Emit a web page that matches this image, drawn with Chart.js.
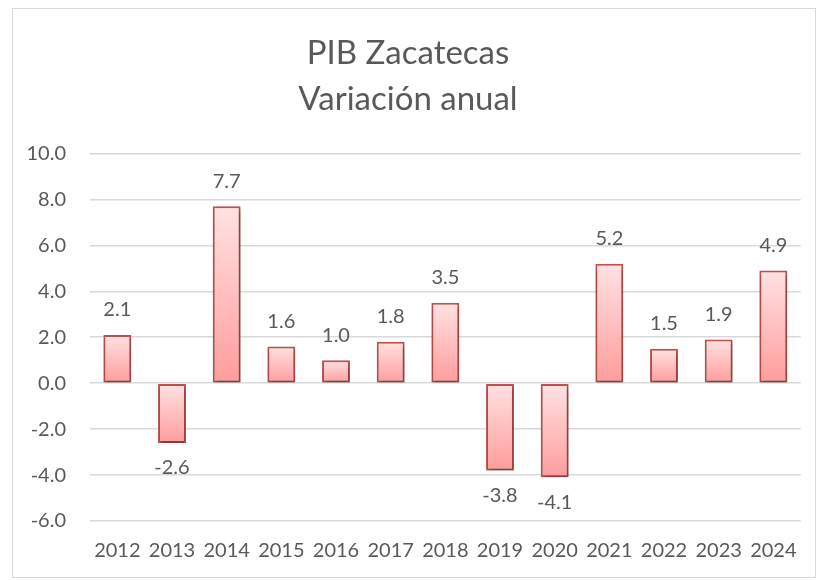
<!DOCTYPE html>
<html>
<head>
<meta charset="utf-8">
<script src="https://cdn.jsdelivr.net/npm/chart.js@4.4.1/dist/chart.umd.min.js"></script>
<style>
  html, body { margin: 0; padding: 0; background: #fff; }
  #box {
    position: absolute; left: 12px; top: 8px;
    width: 802px; height: 568px;
    border: 1px solid #d9d9d9;
  }
</style>
</head>
<body>
<div id="box"><canvas id="bar-chart" width="802" height="568"></canvas></div>
<script>
const years = ['2012', '2013', '2014', '2015', '2016', '2017', '2018', '2019', '2020', '2021', '2022', '2023', '2024'];
const variation = [2.1, -2.6, 7.7, 1.6, 1.0, 1.8, 3.5, -3.8, -4.1, 5.2, 1.5, 1.9, 4.9];
const titleLines = ['PIB Zacatecas', 'Variación anual'];

const FONT = 'Lato, "Noto Sans", sans-serif';
const GREY = '#595959';

// gradient fill, light at the top of each bar, deeper at the bottom
function barFill(ctx) {
    const chart = ctx.chart;
    const y = chart.scales.y;
    if (!y || ctx.type !== 'data') return '#ffc0c0';
    const v = ctx.parsed.y;
    const top = y.getPixelForValue(Math.max(v, 0));
    const bot = y.getPixelForValue(Math.min(v, 0));
    if (!isFinite(top) || !isFinite(bot) || top === bot) return '#ffc0c0';
    const g = chart.ctx.createLinearGradient(0, top, 0, bot);
    g.addColorStop(0, '#ffe2e2');
    g.addColorStop(1, '#ff9c9c');
    return g;
}

const shadow = {
    id: 'shadow',
    beforeDatasetsDraw(chart) {
        const c = chart.ctx;
        c.save();
        c.shadowColor = 'rgba(0,0,0,0.35)';
        c.shadowBlur = 4;
        c.shadowOffsetX = 1;
        c.shadowOffsetY = 3;
    },
    afterDatasetsDraw(chart) {
        chart.ctx.restore();
    }
};

const valueLabels = {
    id: 'valueLabels',
    afterDatasetsDraw(chart) {
        const c = chart.ctx;
        const meta = chart.getDatasetMeta(0);
        c.save();
        c.font = '20px ' + FONT;
        c.fillStyle = GREY;
        c.textAlign = 'center';
        c.textBaseline = 'middle';
        meta.data.forEach((bar, i) => {
            const v = variation[i];
            const off = v >= 0 ? -25 : 25;
            c.fillText(v.toFixed(1), bar.x, bar.y + off);
        });
        c.restore();
    }
};

new Chart(document.getElementById('bar-chart'), {
    type: 'bar',
    data: {
        labels: years,
        datasets: [{
            data: variation,
            backgroundColor: barFill,
            borderColor: '#c0504d',
            borderWidth: 2,
            borderSkipped: false,
            categoryPercentage: 1,
            barPercentage: 0.51
        }]
    },
    options: {
        responsive: false,
        animation: false,
        layout: { padding: { left: 0, right: 12, top: 0, bottom: 14 } },
        plugins: {
            legend: { display: false },
            tooltip: { enabled: false },
            title: {
                display: true,
                text: titleLines,
                color: GREY,
                font: { family: FONT, size: 33, weight: 'normal', lineHeight: 1.4 },
                padding: { top: 21, bottom: 31 }
            }
        },
        scales: {
            x: {
                grid: { display: false, drawTicks: false },
                border: { display: false },
                ticks: { color: GREY, font: { family: FONT, size: 20 }, padding: 18, maxRotation: 0, autoSkip: false },
                afterFit: s => { s.height = 42; }
            },
            y: {
                min: -6,
                max: 10,
                grid: { color: '#d9d9d9', lineWidth: 1.5, drawTicks: false },
                border: { display: false },
                ticks: {
                    stepSize: 2,
                    color: GREY,
                    font: { family: FONT, size: 20 },
                    padding: 24,
                    callback: v => Number(v).toFixed(1)
                },
                afterFit: s => { s.width = 77; }
            }
        }
    },
    plugins: [shadow, valueLabels]
});
</script>
</body>
</html>
